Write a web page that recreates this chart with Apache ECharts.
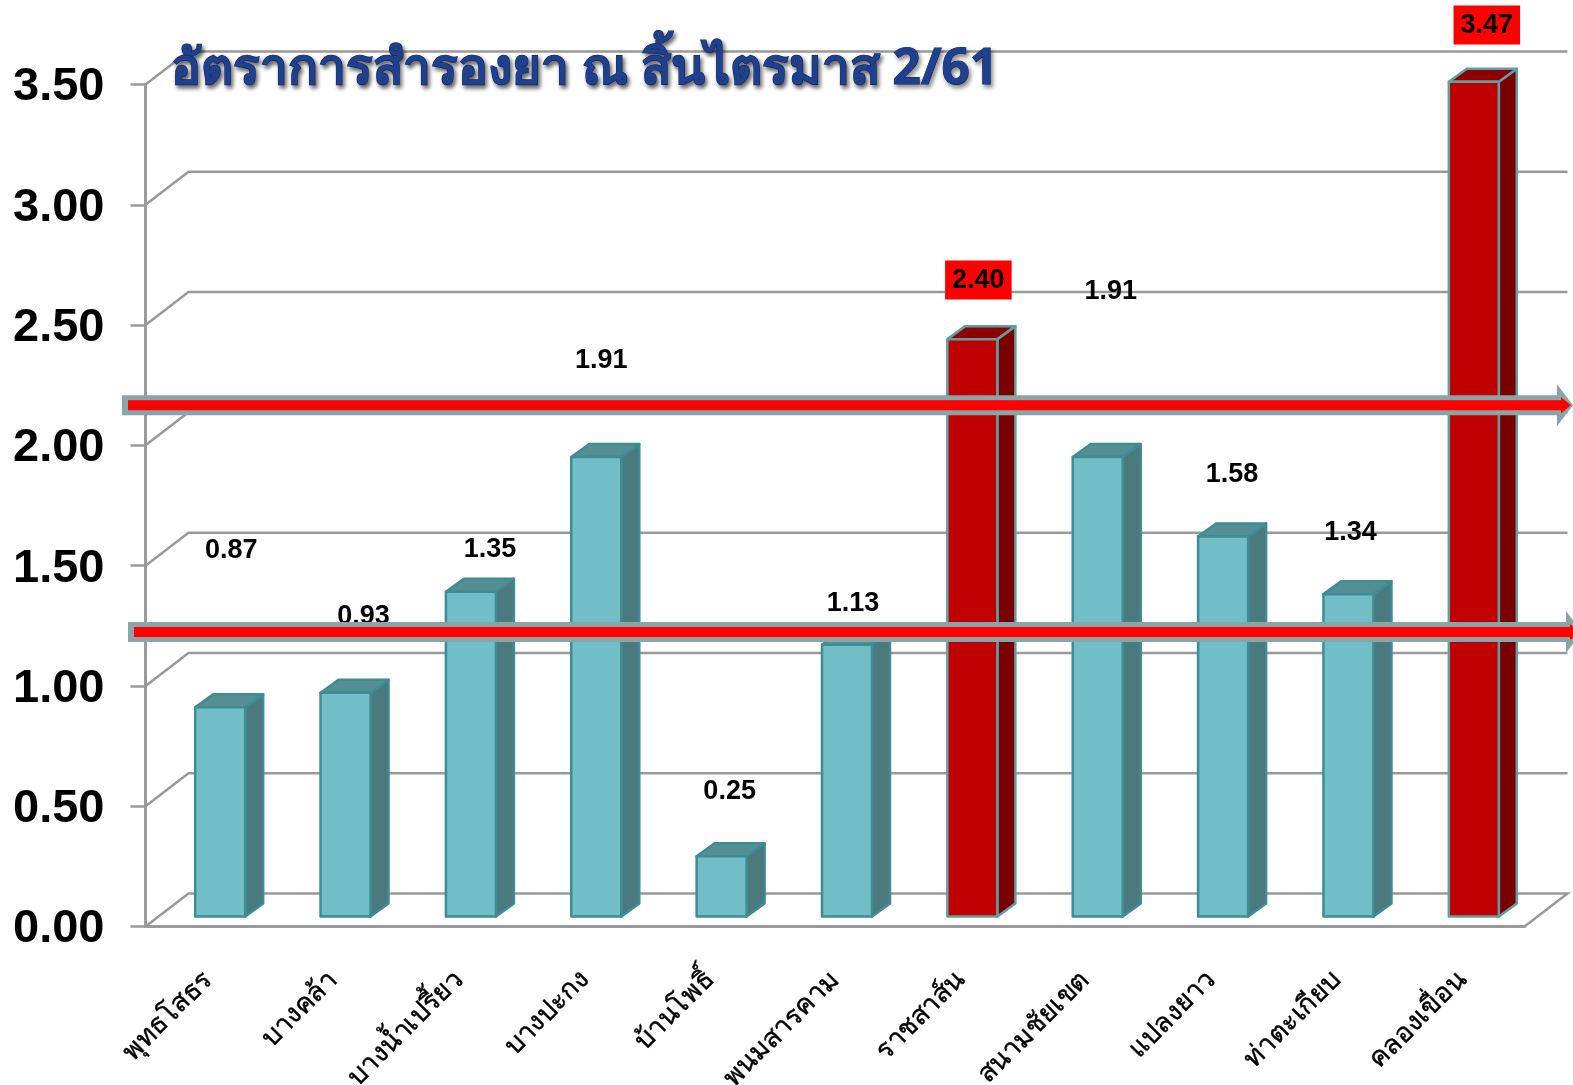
<!DOCTYPE html>
<html>
<head>
<meta charset="utf-8">
<title>อัตราการสำรองยา</title>
<style>
    html, body { margin: 0; padding: 0; background: #fff; }
    #chart { width: 1573px; height: 1085px; }
</style>
<script src="https://cdn.jsdelivr.net/npm/echarts@6/dist/echarts.min.js"></script>
</head>
<body>
<div id="chart"></div>
<script>
var titleText = 'อัตราการสำรองยา ณ สิ้นไตรมาส 2/61';
var categories = ['พุทธโสธร', 'บางคล้า', 'บางน้ำเปรี้ยว', 'บางปะกง', 'บ้านโพธิ์', 'พนมสารคาม', 'ราชสาส์น', 'สนามชัยเขต', 'แปลงยาว', 'ท่าตะเกียบ', 'คลองเขื่อน'];
var values = [0.87, 0.93, 1.35, 1.91, 0.25, 1.13, 2.40, 1.91, 1.58, 1.34, 3.47];
var flagged = [6, 10]; // the red districts
var yTicks = [0, 0.5, 1, 1.5, 2, 2.5, 3, 3.5];
var refLevels = [2.167, 1.224];

// the labels float away from their bars in the original
var labelLevels = [1.561, 1.287, 1.565, 2.351, 0.559, 1.341, 2.687, 2.638, 1.877, 1.636, 3.747];
var labelShift = [23, 30, 31, 17, 20, 18, 18, 25, 21, 14, 25];

var wallDx = 43, wallDy = 33, barDx = 18, barDy = 13, barW = 50, barLift = 10, barNudge = 12;
var fontLatin = '"Liberation Sans", Arial, sans-serif';

function pairs(list) {
    return list.map(function (v, i) { return [i, v]; });
}

function renderWall(params, api) {
    var rect = params.coordSys;
    var y = api.coord([0, api.value(1)])[1];
    var points = [[rect.x, y], [rect.x + wallDx, y - wallDy], [rect.x + rect.width + wallDx, y - wallDy]];
    if (api.value(1) === 0) {
        points.push([rect.x + rect.width, y]);
    }
    return {
        type: 'polyline',
        shape: { points: points },
        style: { fill: null, stroke: '#9a9a9a', lineWidth: 2.5 }
    };
}

function renderBar(params, api) {
    var i = api.value(0);
    var top = api.coord([i, api.value(1)]);
    var base = api.coord([i, 0]);
    var x = top[0] + barNudge - barW / 2;
    var y = top[1] - barLift;
    var bottom = base[1] - barLift;
    var red = flagged.indexOf(i) >= 0;
    var edge = red ? '#5f9ea3' : '#3f8c94';
    function face(points, fill) {
        return {
            type: 'polygon',
            shape: { points: points },
            style: { fill: fill, stroke: edge, lineWidth: 2.5, lineJoin: 'round' }
        };
    }
    return {
        type: 'group',
        children: [
            face([[x + barW, y], [x + barW + barDx, y - barDy], [x + barW + barDx, bottom - barDy], [x + barW, bottom]], red ? '#7a0000' : '#4a7a7e'),
            face([[x, y], [x + barDx, y - barDy], [x + barW + barDx, y - barDy], [x + barW, y]], red ? '#8c0000' : '#548f93'),
            face([[x, y], [x + barW, y], [x + barW, bottom], [x, bottom]], red ? '#c00000' : '#72bec6')
        ]
    };
}

function renderLabel(params, api) {
    var i = api.value(0);
    var pos = api.coord([i, labelLevels[i]]);
    var red = flagged.indexOf(i) >= 0;
    return {
        type: 'text',
        style: {
            x: pos[0] + labelShift[i],
            y: pos[1],
            text: values[i].toFixed(2),
            font: 'bold 27px ' + fontLatin,
            fill: '#000',
            align: 'center',
            verticalAlign: 'middle',
            backgroundColor: red ? '#ff0000' : null,
            padding: red ? [6, 7, 6, 7] : 0
        }
    };
}

function renderArrow(params, api) {
    var n = params.dataIndex;
    var y = api.coord([0, api.value(1)])[1];
    var x0 = n === 0 ? 122 : 128;
    var x1 = n === 0 ? 1573 : 1582;
    var neck = x1 - 16;
    var innerTip = x1 - 2;
    var innerNeck = innerTip - 10;
    return {
        type: 'group',
        children: [{
            type: 'polygon',
            shape: { points: [[x0, y - 10], [neck, y - 10], [neck, y - 21], [x1, y], [neck, y + 21], [neck, y + 10], [x0, y + 10]] },
            style: { fill: '#8aa5a7' }
        }, {
            type: 'polygon',
            shape: { points: [[x0 + 6, y - 5], [innerNeck, y - 5], [innerNeck, y - 8], [innerTip, y], [innerNeck, y + 8], [innerNeck, y + 5], [x0 + 6, y + 5]] },
            style: { fill: '#ff0000' }
        }]
    };
}

var chart = echarts.init(document.getElementById('chart'));

chart.setOption({
    animation: false,
    backgroundColor: '#fff',
    title: {
        text: titleText,
        left: 166,
        top: 40,
        textStyle: {
            fontFamily: '"Noto Sans", "DejaVu Sans", sans-serif',
            fontWeight: 'bold',
            fontSize: 49.5,
            color: '#1f3f8f',
            textBorderColor: '#16306f',
            textBorderWidth: 1,
            textShadowColor: 'rgba(0,0,0,0.45)',
            textShadowBlur: 4,
            textShadowOffsetX: 2,
            textShadowOffsetY: 3
        }
    },
    // outerBoundsMode off, otherwise the long labels squeeze the grid
    grid: { left: 145.5, top: 84.5, width: 1379, height: 842, outerBoundsMode: 'none' },
    xAxis: {
        type: 'category',
        data: categories,
        boundaryGap: true,
        axisLine: { lineStyle: { color: '#9a9a9a', width: 3 } },
        axisTick: { alignWithLabel: false, length: 14, lineStyle: { color: '#9a9a9a', width: 2.5 } },
        axisLabel: {
            interval: 0,
            rotate: 45,
            margin: 49,
            fontSize: 27,
            color: '#000',
            textBorderColor: '#000',
            textBorderWidth: 0.4,
            fontFamily: '"Noto Sans", sans-serif'
        }
    },
    yAxis: {
        type: 'value',
        min: 0,
        max: 3.5,
        interval: 0.5,
        splitLine: { show: false },
        axisLine: { show: true, lineStyle: { color: '#9a9a9a', width: 3 } },
        axisTick: { show: true, length: 15, lineStyle: { color: '#9a9a9a', width: 2.5 } },
        axisLabel: {
            margin: 41,
            fontSize: 47,
            fontWeight: 'bold',
            color: '#000',
            fontFamily: fontLatin,
            verticalAlign: 'top',
            lineHeight: 6,
            formatter: function (v) { return v.toFixed(2); }
        }
    },
    series: [
        { type: 'custom', z: 1, silent: true, data: yTicks.map(function (v) { return [0, v]; }), renderItem: renderWall },
        { type: 'custom', z: 2, silent: true, data: pairs(values), renderItem: renderBar },
        { type: 'custom', z: 3, silent: true, data: pairs(values), renderItem: renderLabel },
        { type: 'custom', z: 4, silent: true, data: refLevels.map(function (v) { return [0, v]; }), renderItem: renderArrow }
    ]
});
</script>
</body>
</html>
